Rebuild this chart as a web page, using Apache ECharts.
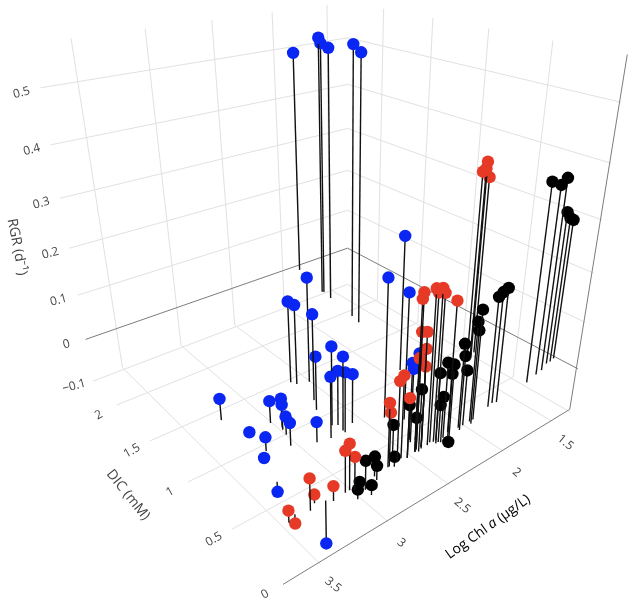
<!DOCTYPE html>
<html>
<head>
<meta charset="utf-8">
<script src="https://cdn.jsdelivr.net/npm/echarts/dist/echarts.min.js"></script>
<style>
  html, body { margin: 0; padding: 0; background: #fff; }
  #chart { width: 629px; height: 604px; }
</style>
</head>
<body>
<div id="chart"></div>
<script>
// axis ticks and ranges
const chlTicks = [1.5, 2, 2.5, 3, 3.5];
const dicTicks = [0, 0.5, 1, 1.5, 2];
const rgrTicks = [-0.1, 0, 0.1, 0.2, 0.3, 0.4, 0.5];
const chlRange = [1.296, 3.739];
const dicRange = [-0.011, 2.405];
const rgrRange = [-0.095, 0.573];

// points: [log Chl a, DIC, RGR]
const bluePts = [
  [1.88, 2.33, 0.493], [1.97, 1.91, 0.543], [1.96, 1.90, 0.533], [1.98, 1.79, 0.530],
  [2.03, 1.47, 0.552], [2.05, 1.37, 0.543], [2.80, 0.99, 0.213], [2.90, 1.06, 0.168],
  [2.88, 1.02, 0.164], [2.90, 0.81, 0.174], [2.97, 0.54, 0.156], [2.95, 0.72, 0.109],
  [2.95, 0.46, 0.146], [3.05, 0.45, 0.121], [2.94, 0.52, 0.109], [2.95, 0.44, 0.119],
  [2.86, 0.48, 0.099], [3.47, 1.00, 0.044], [3.25, 0.79, 0.045], [3.22, 0.71, 0.059],
  [3.23, 0.69, 0.051], [3.24, 0.64, 0.037], [3.28, 0.54, 0.046], [3.14, 0.47, 0.041],
  [3.41, 0.78, 0.004], [3.42, 0.59, 0.028], [3.45, 0.57, -0.006], [3.52, 0.34, -0.020],
  [3.40, 0.06, -0.087], [2.67, 0.40, 0.268], [2.59, 0.31, 0.245], [2.67, 0.13, 0.167],
  [2.70, 0.15, 0.150], [2.71, 0.13, 0.143], [2.24, 0.72, 0.273]
];
const redPts = [
  [1.73, 0.55, 0.387], [1.78, 0.54, 0.373], [1.69, 0.56, 0.356], [1.75, 0.54, 0.377],
  [2.73, 0.06, 0.288], [2.75, 0.05, 0.280], [2.65, 0.05, 0.288], [2.60, 0.05, 0.284],
  [2.62, 0.06, 0.277], [2.58, 0.05, 0.274], [2.47, 0.06, 0.249], [2.70, 0.09, 0.214],
  [2.69, 0.06, 0.217], [2.69, 0.06, 0.187], [2.74, 0.06, 0.176], [2.70, 0.05, 0.158],
  [2.85, 0.06, 0.158], [2.89, 0.05, 0.154], [2.82, 0.04, 0.116], [2.96, 0.05, 0.123],
  [2.95, 0.05, 0.104], [3.25, 0.04, 0.089], [3.28, 0.04, 0.080], [3.23, 0.02, 0.065],
  [3.51, 0.05, 0.061], [3.46, 0.08, 0.017], [3.37, 0.03, 0.029], [3.65, 0.05, 0.023],
  [3.59, 0.08, -0.018]
];
const blackPts = [
  [1.69, 0.10, 0.385], [1.57, 0.12, 0.370], [1.50, 0.13, 0.377], [1.41, 0.16, 0.307],
  [1.32, 0.17, 0.285], [1.37, 0.16, 0.293], [2.04, 0.09, 0.220], [2.01, 0.08, 0.226],
  [2.09, 0.08, 0.217], [2.26, 0.05, 0.214], [2.29, 0.05, 0.195], [2.30, 0.03, 0.183],
  [2.39, 0.05, 0.165], [2.40, 0.03, 0.146], [2.35, 0.05, 0.110], [2.53, 0.04, 0.147],
  [2.50, 0.02, 0.143], [2.50, 0.03, 0.124], [2.60, 0.03, 0.137], [2.73, 0.04, 0.121],
  [2.57, 0.02, 0.090], [2.58, 0.03, 0.074], [2.82, 0.04, 0.103], [2.75, 0.05, 0.068],
  [2.87, 0.11, 0.060], [2.93, 0.03, 0.020], [3.18, -0.01, 0.056], [3.07, 0.04, 0.039],
  [3.08, 0.01, 0.028], [3.23, -0.02, 0.025], [3.26, -0.04, 0.019], [3.18, -0.06, 0.019],
  [2.56, -0.03, 0.008]
];
const groupColors = ['#0a26f2', '#e63a27', '#000000'];

// perspective camera fitted to the reference view (3x4 matrix, last entry 1)
const cam = [
  -132.14236, -44.180312, -96.115887, 680.98271,
  13.057983, -15.528887, -498.95474, 308.51133,
  -0.089288055, 0.11500698, -0.27833255
];
function project(x, y, z) {
  const w = cam[8] * x + cam[9] * y + cam[10] * z + 1;
  return {
    u: (cam[0] * x + cam[1] * y + cam[2] * z + cam[3]) / w,
    v: (cam[4] * x + cam[5] * y + cam[6] * z + cam[7]) / w,
    w: w
  };
}

const [x0, x1] = chlRange, [y0, y1] = dicRange, [z0, z1] = rgrRange;

// wall and floor grid
let segs = [];
rgrTicks.forEach(t => {
  segs.push({ a: [x1, y1, t], b: [x0, y1, t], zero: t === 0 });
  segs.push({ a: [x0, y1, t], b: [x0, y0, t], zero: t === 0 });
});
chlTicks.forEach(c => {
  segs.push({ a: [c, y1, z0], b: [c, y1, z1] });
  segs.push({ a: [c, y0, z0], b: [c, y1, z0] });
});
dicTicks.forEach(d => {
  segs.push({ a: [x0, d, z0], b: [x0, d, z1], zero: d === 0 });
  segs.push({ a: [x1, d, z0], b: [x0, d, z0], zero: d === 0 });
});
segs.sort((a, b) => (a.zero ? 1 : 0) - (b.zero ? 1 : 0));

function fmt(v) { return String(v).replace('-', '\u2212'); }
let labels = [];
rgrTicks.forEach(t => labels.push({ p: [x1, y1, t], text: fmt(t), dx: -19, dy: 5, rot: 0.26 }));
dicTicks.forEach(d => labels.push({ p: [x1, d, z0], text: fmt(d), dx: -18, dy: 10, rot: 0.52 }));
chlTicks.forEach(c => labels.push({ p: [c, y0, z0], text: fmt(c), dx: 13, dy: 21, rot: -0.68 }));

// all points in one list, far ones first
let pts = [];
[bluePts, redPts, blackPts].forEach((arr, g) => arr.forEach(p => pts.push([p[0], p[1], p[2], g])));
pts.sort((a, b) => project(b[0], b[1], b[2]).w - project(a[0], a[1], a[2]).w);

const chart = echarts.init(document.getElementById('chart'));
const option = {
  animation: false,
  backgroundColor: '#fff',
  grid: { left: 0, right: 0, top: 0, bottom: 0 },
  xAxis: { type: 'value', min: 0, max: 629, show: false },
  yAxis: { type: 'value', min: 0, max: 604, inverse: true, show: false },
  graphic: [
    {
      type: 'text', x: 17, y: 247, rotation: -1.38,
      style: { text: 'RGR (d\u207B\u00B9)', font: '14px "Open Sans"', fill: '#444', align: 'center', verticalAlign: 'middle' }
    },
    {
      type: 'text', x: 128, y: 495, rotation: -0.89,
      style: { text: 'DIC (mM)', font: '14px "Open Sans"', fill: '#444', align: 'center', verticalAlign: 'middle' }
    },
    {
      type: 'text', x: 488, y: 527, rotation: 0.62,
      style: {
        text: '{n|Log Chl }{i|a}{n| (\u00B5g/L)}', align: 'center', verticalAlign: 'middle',
        rich: {
          n: { fontFamily: 'Open Sans', fontSize: 14, color: '#444' },
          i: { fontFamily: 'Open Sans', fontSize: 14, color: '#444', fontStyle: 'italic' }
        }
      }
    }
  ],
  series: [
    {
      type: 'custom', silent: true, z: 1,
      data: segs.map((s, i) => [i, 0]),
      renderItem: function (params, api) {
        const s = segs[params.dataIndex];
        const p1 = project(s.a[0], s.a[1], s.a[2]), p2 = project(s.b[0], s.b[1], s.b[2]);
        const c1 = api.coord([p1.u, p1.v]), c2 = api.coord([p2.u, p2.v]);
        return {
          type: 'line',
          shape: { x1: c1[0], y1: c1[1], x2: c2[0], y2: c2[1] },
          style: { stroke: s.zero ? '#7d7d7d' : '#e1e1e1', lineWidth: 1 }
        };
      }
    },
    {
      type: 'custom', silent: true, z: 2,
      data: labels.map((l, i) => [i, 0]),
      renderItem: function (params, api) {
        const l = labels[params.dataIndex];
        const p = project(l.p[0], l.p[1], l.p[2]);
        const c = api.coord([p.u, p.v]);
        return {
          type: 'text', x: c[0] + l.dx, y: c[1] + l.dy, rotation: l.rot,
          style: { text: l.text, font: '12px "Open Sans"', fill: '#444', align: 'center', verticalAlign: 'middle' }
        };
      }
    },
    {
      type: 'custom', silent: true, z: 3,
      data: pts,
      renderItem: function (params, api) {
        const x = api.value(0), y = api.value(1), z = api.value(2), g = api.value(3);
        const top = project(x, y, z), base = project(x, y, 0);
        const a = api.coord([top.u, top.v]), b = api.coord([base.u, base.v]);
        return {
          type: 'group',
          children: [
            {
              type: 'line', z2: params.dataIndex * 2,
              shape: { x1: b[0], y1: b[1], x2: a[0], y2: a[1] },
              style: { stroke: '#111', lineWidth: 1.4 }
            },
            {
              type: 'circle', z2: params.dataIndex * 2 + 1,
              shape: { cx: a[0], cy: a[1], r: 6.2 },
              style: { fill: groupColors[g] }
            }
          ]
        };
      }
    }
  ]
};
chart.setOption(option);
</script>
</body>
</html>
